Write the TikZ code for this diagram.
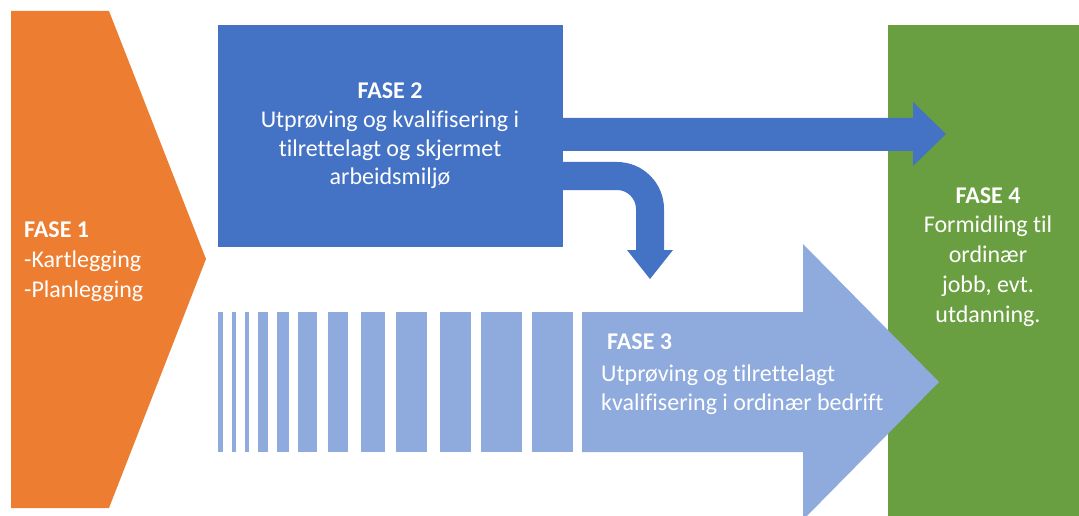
\documentclass[tikz,border=0pt]{standalone}
\usepackage{fontspec}
\setmainfont{Carlito}[Ligatures=NoCommon]
\definecolor{fOrange}{HTML}{ED7D31}
\definecolor{fBlue}{HTML}{4472C4}
\definecolor{fLight}{HTML}{8FAADC}
\definecolor{fGreen}{HTML}{699F40}
\tikzset{
  lbl/.style={text=white, inner sep=0pt, font=\fontsize{24}{29.5}\selectfont},
  panel/.style={inner sep=0pt, outer sep=0pt, anchor=north west},
}
\begin{document}
\begin{tikzpicture}[x=1pt,y=-1pt]
\useasboundingbox (0,0) rectangle (1079,516);
% Phase 1 chevron
\fill[fOrange] (11,11) -- (109,11) -- (206,259) -- (109,508) -- (11,508) -- cycle;
\node[lbl, anchor=base west, align=left, font=\fontsize{24}{30}\selectfont] (t1) at (24,297)
  {\textbf{FASE 1}\\-Kartlegging\\-Planlegging};
% Phase 4 box
\node[panel, fill=fGreen, minimum width=191pt, minimum height=491pt] (b4) at (888,25) {};
\node[lbl, anchor=base, align=center, font=\fontsize{24}{29.75}\selectfont] (t4) at (988,322)
  {\textbf{FASE 4}\\Formidling til\\ordinær\\jobb, evt.\\utdanning.};
% Phase 2 box
\node[panel, fill=fBlue, minimum width=345pt, minimum height=222pt] (b2) at (218,25) {};
\node[lbl, anchor=base, align=center, font=\fontsize{24}{28.7}\selectfont] (t2) at (390,185)
  {\textbf{FASE 2}\\Utprøving og kvalifisering i\\tilrettelagt og skjermet\\arbeidsmiljø};
% straight arrow to phase 4
\fill[fBlue] (b2.east |- 0,118) -- (913,118) -- (913,102) -- (946,134) -- (913,166) -- (913,151) -- (b2.east |- 0,151) -- cycle;
% bent arrow to phase 3
\fill[fBlue] (b2.east |- 0,162) -- (617,162) arc[start angle=-90, end angle=0, radius=47]
  -- (664,250) -- (673,250) -- (650,279) -- (627,250) -- (636,250) -- (636,209)
  arc[start angle=0, end angle=-90, radius=19] -- (b2.east |- 0,190) -- cycle;
% Phase 3 striped arrow
\foreach \a/\b in {218/223,232/236,245/249,258/268,277/289,298/317,328/348,361/385,396/427,440/471,481/522,532/573}
  \fill[fLight] (\a,312) rectangle (\b,452);
\fill[fLight] (582,312) -- (803,312) -- (803,244) -- (939,382) -- (803,520) -- (803,452) -- (582,452) -- cycle;
\node[lbl, anchor=base west, align=left, font=\fontsize{24}{28.5}\selectfont] (t3) at (601,410)
  {\hspace{6pt}\textbf{FASE 3}\\[4pt]Utprøving og tilrettelagt\\kvalifisering i ordinær bedrift};
\end{tikzpicture}
\end{document}
